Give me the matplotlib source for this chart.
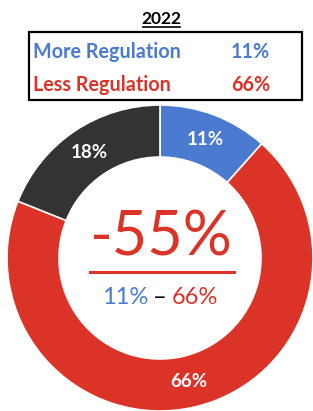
import matplotlib
matplotlib.use("Agg")
import matplotlib.pyplot as plt
import numpy as np
from matplotlib.patches import Rectangle

year = "2022"
categories = ["More Regulation", "Less Regulation", "No Opinion"]
values = [11, 66, 18]
slice_labels = ["11%", "66%", "18%"]
net_label = "-55%"
colors = ["#4a7bd0", "#dc3328", "#333333"]

W, H = 313, 411
fig = plt.figure(figsize=(W / 100, H / 100), dpi=100)
FONT = "Lato"

# donut
cx, cy, R = 160, 258, 153
ax = fig.add_axes([(cx - R) / W, (H - cy - R) / H, 2 * R / W, 2 * R / H])
wedges, _ = ax.pie(values, colors=colors, startangle=90, counterclock=False,
                   radius=1, wedgeprops=dict(width=0.34, edgecolor="white", linewidth=1.2))
ax.set_xlim(-1, 1); ax.set_ylim(-1, 1); ax.set_aspect("equal"); ax.axis("off")
for w, lab in zip(wedges, slice_labels):
    ang = np.deg2rad((w.theta1 + w.theta2) / 2)
    ax.text(0.83 * np.cos(ang), 0.83 * np.sin(ang), lab, ha="center", va="center",
            color="white", fontsize=13.5, fontweight="bold", family=FONT)

def fy(y):
    return 1 - y / H
def fx(x):
    return x / W

# title
fig.text(fx(161), fy(19), year, ha="center", va="center", fontsize=12.5, fontweight="bold",
         family=FONT, color="black")
fig.add_artist(plt.Line2D([fx(143), fx(180)], [fy(27), fy(27)], color="black", lw=1.2))

# box
fig.add_artist(Rectangle((fx(29), fy(100)), fx(302) - fx(29), fy(32) - fy(100),
                         fill=False, edgecolor="black", lw=1.6, transform=fig.transFigure))
fs = 14.2
fig.text(fx(33), fy(52), categories[0], ha="left", va="center", fontsize=fs,
         fontweight="bold", family=FONT, color=colors[0])
fig.text(fx(270), fy(52), f"{values[0]}%", ha="right", va="center", fontsize=fs,
         fontweight="bold", family=FONT, color=colors[0])
fig.text(fx(33), fy(85), categories[1], ha="left", va="center", fontsize=fs,
         fontweight="bold", family=FONT, color=colors[1])
fig.text(fx(270), fy(85), f"{values[1]}%", ha="right", va="center", fontsize=fs,
         fontweight="bold", family=FONT, color=colors[1])

# center text
fig.text(fx(161), fy(238), net_label, ha="center", va="center", fontsize=44,
         family=FONT, color=colors[1])
fig.add_artist(plt.Line2D([fx(90), fx(234)], [fy(272), fy(272)], color=colors[1], lw=2.2))
fig.text(fx(148), fy(297), f"{values[0]}%", ha="right", va="center", fontsize=17,
         family=FONT, color=colors[0])
fig.text(fx(160), fy(297), "–", ha="center", va="center", fontsize=17,
         family=FONT, color="black")
fig.text(fx(172), fy(297), f"{values[1]}%", ha="left", va="center", fontsize=17,
         family=FONT, color=colors[1])

fig.savefig("out.png", dpi=100)
